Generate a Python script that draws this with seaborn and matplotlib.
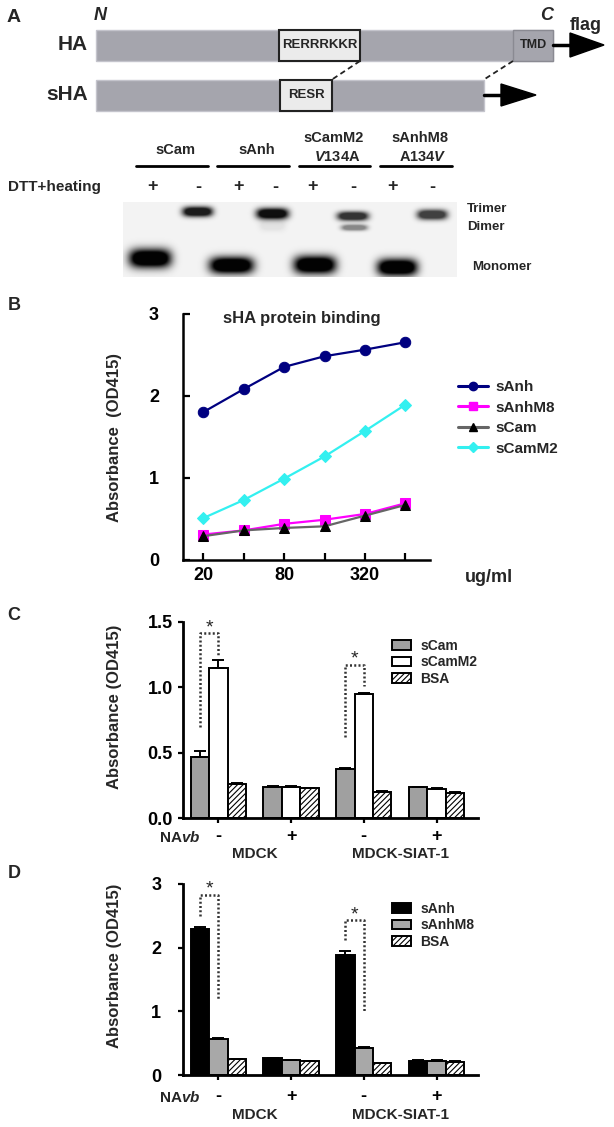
import numpy as np
import pandas as pd
import matplotlib
matplotlib.use("Agg")
import matplotlib.pyplot as plt
import matplotlib.transforms as mtransforms
from matplotlib.patches import Rectangle, Polygon, Patch
from matplotlib.lines import Line2D
import seaborn as sns

# ---------------- data ----------------
# Panel A gel: bands (x centre, y centre, half width, half height, intensity) in gel units
band_x = [27, 74.5, 108.5, 149.5, 149.5, 192, 230, 231.5, 274.5, 309.5]
band_y = [56.5, 9.5, 63.5, 11.5, 23, 63, 14, 25.5, 65.5, 12.5]
band_w = [21, 15, 22, 16, 13, 21, 15.5, 13, 20, 15]
band_h = [9.5, 5, 8.5, 5.5, 6, 9, 4.5, 3, 8.5, 5]
band_i = [1.0, 0.9, 1.0, 0.95, 0.07, 1.0, 0.8, 0.45, 1.0, 0.75]
lane_signs = ["+", "-", "+", "-", "+", "-", "+", "-"]
lane_x = [153, 198, 238, 275, 313, 353, 392, 432]

# Panel B
conc = ["20", "40", "80", "160", "320", "640"]
conc_shown = ["20", "", "80", "", "320", ""]
b_names = ["sAnh", "sAnhM8", "sCam", "sCamM2"]
b_sAnh = [1.80, 2.08, 2.35, 2.48, 2.56, 2.65]
b_sAnhM8 = [0.31, 0.36, 0.44, 0.49, 0.56, 0.69]
b_sCam = [0.29, 0.36, 0.39, 0.41, 0.54, 0.67]
b_sCamM2 = [0.51, 0.73, 0.99, 1.26, 1.57, 1.89]

# Panels C / D
groups = ["MDCK-", "MDCK+", "SIAT-", "SIAT+"]
navb = ["-", "+", "-", "+"]
cells = ["MDCK", "MDCK-SIAT-1"]

c_names = ["sCam", "sCamM2", "BSA"]
c_sCam = [0.47, 0.24, 0.375, 0.235]
c_sCam_err = [0.04, 0.004, 0.012, 0.004]
c_sCamM2 = [1.145, 0.24, 0.945, 0.225]
c_sCamM2_err = [0.065, 0.004, 0.012, 0.008]
c_BSA = [0.265, 0.228, 0.20, 0.195]
c_BSA_err = [0.006, 0.004, 0.005, 0.005]
c_sig_low_left = [0.70, 0.62]
c_sig_top = [1.41, 1.17]
c_sig_low_right = [1.24, 1.01]
c_sig_groups = [0, 2]

d_names = ["sAnh", "sAnhM8", "BSA"]
d_sAnh = [2.29, 0.26, 1.89, 0.22]
d_sAnh_err = [0.03, 0.01, 0.05, 0.01]
d_sAnhM8 = [0.56, 0.235, 0.42, 0.225]
d_sAnhM8_err = [0.015, 0.005, 0.012, 0.006]
d_BSA = [0.245, 0.22, 0.185, 0.21]
d_BSA_err = [0.008, 0.005, 0.006, 0.005]
d_sig_low_left = [2.50, 2.12]
d_sig_top = [2.83, 2.43]
d_sig_low_right = [1.20, 1.00]
d_sig_groups = [0, 2]

# ---------------- style ----------------
sns.set_style("ticks")
plt.rcParams["font.family"] = ["Liberation Sans", "DejaVu Sans"]
plt.rcParams["font.weight"] = "bold"
plt.rcParams["axes.labelweight"] = "bold"
plt.rcParams["mathtext.fontset"] = "custom"
plt.rcParams["mathtext.it"] = "Liberation Sans:italic:bold"
plt.rcParams["mathtext.rm"] = "Liberation Sans:bold"
plt.rcParams["mathtext.bf"] = "Liberation Sans:bold"
plt.rcParams["hatch.linewidth"] = 0.8
plt.rcParams["hatch.color"] = "black"
plt.rcParams["axes.edgecolor"] = "black"
plt.rcParams["xtick.color"] = "black"
plt.rcParams["ytick.color"] = "black"

W, H = 614, 1127
fig = plt.figure(figsize=(W / 100, H / 100), dpi=100)
ov = fig.add_axes([0, 0, 1, 1])
ov.set_xlim(0, W)
ov.set_ylim(H, 0)
ov.axis("off")


def fax(x0, y0, x1, y1):
    a = fig.add_axes([x0 / W, 1 - y1 / H, (x1 - x0) / W, (y1 - y0) / H])
    a.patch.set_alpha(0)
    return a


# ---------------- Panel A ----------------
bar_c = "#a5a5ad"
box_c = "#ebebeb"
ov.text(14, 18, "A", fontsize=14, ha="center", va="center")
ov.text(100, 15, "N", fontsize=13, style="italic", ha="center", va="center")
ov.text(547, 15, "C", fontsize=13, style="italic", ha="center", va="center")
ov.text(586, 25, "flag", fontsize=13, ha="center", va="center")
ov.text(88, 45, "HA", fontsize=15, ha="right", va="center")
ov.text(88, 95, "sHA", fontsize=15, ha="right", va="center")

ov.add_patch(Rectangle((96, 29.5), 457, 31.5, fc=bar_c, ec="#c4c4cc", lw=1))
ov.add_patch(Rectangle((513, 29.5), 40, 31.5, fc=bar_c, ec="#8a8a92", lw=1))
ov.add_patch(Rectangle((279, 29.5), 81, 31.5, fc=box_c, ec="#222222", lw=1.5))
ov.text(319.5, 45.5, "RERRRKKR", fontsize=9.5, ha="center", va="center")
ov.text(533, 45.5, "TMD", fontsize=9, ha="center", va="center", color="#222222")
ov.plot([553, 572], [45, 45], color="black", lw=2.5)
ov.add_patch(Polygon([(570, 33), (604, 45), (570, 57)], closed=True, fc="black", ec="black"))

ov.add_patch(Rectangle((96, 79.5), 388, 31, fc=bar_c, ec="#c4c4cc", lw=1))
ov.add_patch(Rectangle((280, 79.5), 52, 31, fc=box_c, ec="#222222", lw=1.5))
ov.text(306, 95.5, "RESR", fontsize=9.5, ha="center", va="center")
ov.plot([484, 503], [95, 95], color="black", lw=2.5)
ov.add_patch(Polygon([(501, 84), (536, 95), (501, 106)], closed=True, fc="black", ec="black"))
ov.plot([360, 332], [61, 79.5], color="#222222", lw=1.3, ls=(0, (3, 2)))
ov.plot([513, 484], [61, 79.5], color="#222222", lw=1.3, ls=(0, (3, 2)))

# gel headers
hdr = [("sCam", None, 175, 136, 208), ("sAnh", None, 257, 217, 289),
       ("sCamM2", r"$V$134A", 334, 299, 370), ("sAnhM8", r"A134$V$", 420, 380, 452)]
for top, bot, cx, l0, l1 in hdr:
    if bot is None:
        ov.text(cx, 150, top, fontsize=10.5, ha="center", va="center")
    else:
        ov.text(cx, 138, top, fontsize=10.5, ha="center", va="center")
        ov.text(cx + 3, 157, bot, fontsize=10.5, ha="center", va="center")
    ov.plot([l0, l1], [166, 166], color="black", lw=2)
ov.text(8, 186.5, "DTT+heating", fontsize=11, ha="left", va="center")
for s, x in zip(lane_signs, lane_x):
    ov.text(x, 187, s, fontsize=13, ha="center", va="center")
ov.text(467, 209, "Trimer", fontsize=9.5, ha="left", va="center")
ov.text(467, 227, "Dimer", fontsize=9.5, ha="left", va="center")
ov.text(472, 267, "Monomer", fontsize=9.5, ha="left", va="center")

# gel image
gax = fax(123, 202, 457, 277)
gxs = np.linspace(0, 334, 668)
gys = np.linspace(0, 75, 150)
GX, GY = np.meshgrid(gxs, gys)
dens = np.zeros_like(GX)
for cx, cy, hw, hh, it in zip(band_x, band_y, band_w, band_h, band_i):
    r = np.abs((GX - cx) / hw) ** 4 + np.abs((GY - cy) / hh) ** 2.2
    dens += it * np.minimum(1.0, 1.5 * np.exp(-r * 1.0))
img = 0.955 - 0.94 * np.clip(dens, 0, 1)
gax.imshow(img, cmap="gray", vmin=0, vmax=1, extent=(0, 334, 75, 0),
           aspect="auto", interpolation="bilinear")
gax.axis("off")

# ---------------- Panel B ----------------
ov.text(14, 306, "B", fontsize=13, ha="center", va="center")
axB = fax(182.7, 313.5, 430, 560)
xb = np.arange(len(conc))
b_vals = [b_sAnh, b_sAnhM8, b_sCam, b_sCamM2]
b_line_c = ["#000080", "#ff00ff", "#666666", "#33f0f0"]
b_mark_c = ["#000080", "#ff00ff", "#000000", "#33f0f0"]
b_mark = ["o", "s", "^", "D"]
b_ms = [7.5, 6.5, 6.5, 6.5]
handles = []
for name, vals, lc, mc, mk, ms in zip(b_names, b_vals, b_line_c, b_mark_c, b_mark, b_ms):
    sns.lineplot(x=xb, y=vals, ax=axB, color=lc, marker=mk, markersize=ms,
                 markerfacecolor=mc, markeredgecolor=mc, linewidth=1.6)
    handles.append(Line2D([], [], color=lc, marker=mk, markersize=ms * 0.8,
                          markerfacecolor=mc, markeredgecolor=mc, lw=2.2))
axB.set_xlim(-0.51, 5.61)
axB.set_ylim(0, 3)
axB.set_xticks(xb)
axB.set_xticklabels(conc_shown)
axB.set_yticks([0, 1, 2, 3])
axB.set_yticklabels(["0", "1", "2", "3"])
for sp in ["top", "right"]:
    axB.spines[sp].set_visible(False)
for sp in ["left", "bottom"]:
    axB.spines[sp].set_linewidth(1.8)
axB.tick_params(axis="both", direction="in", length=5, width=1.6, labelsize=13)
axB.tick_params(axis="y", pad=17)
axB.tick_params(axis="x", pad=5)
for t in axB.get_xticklabels() + axB.get_yticklabels():
    t.set_fontweight("bold")
axB.set_xlabel("")
axB.set_ylabel("")
ov.text(114, 438, "Absorbance  (OD415)", fontsize=12, rotation=90, ha="center", va="center")
ov.text(302, 318, "sHA protein binding", fontsize=12, ha="center", va="center")
ov.text(489, 577, "ug/ml", fontsize=13, ha="center", va="center")
axB.legend(handles, b_names, loc="upper left", bbox_to_anchor=(458 / W, 1 - 380 / H),
           bbox_transform=fig.transFigure, frameon=False, prop={"weight": "bold", "size": 11},
           handlelength=1.95, handletextpad=0.5, labelspacing=0.43, borderpad=0, borderaxespad=0)


# ---------------- Panels C, D ----------------
def bar_panel(ax, names, series, errs, colors, hatches, ylim, yticks, yticklabels,
              sig_groups, sig_ll, sig_top, sig_lr, star_dy, ypad, xpad):
    rows = []
    for n, vals in zip(names, series):
        for g, v in zip(groups, vals):
            rows.append({"group": g, "series": n, "value": v})
    df = pd.DataFrame(rows)
    sns.barplot(data=df, x="group", y="value", hue="series", order=groups, hue_order=names,
                palette=dict(zip(names, colors)), width=0.76, edgecolor="black",
                linewidth=1.4, errorbar=None, legend=False, ax=ax, saturation=1)
    centers = []
    for cont, hatch, e in zip(ax.containers, hatches, errs):
        xs, tops = [], []
        for bar in cont:
            if hatch:
                bar.set_hatch(hatch)
            xs.append(bar.get_x() + bar.get_width() / 2)
            tops.append(bar.get_height())
        centers.append(xs)
        ax.errorbar(xs, tops, yerr=[np.zeros(len(e)), e], fmt="none", ecolor="black",
                    elinewidth=1.4, capsize=4, capthick=1.4, zorder=5)
    for g, ll, tp, lr in zip(sig_groups, sig_ll, sig_top, sig_lr):
        xl, xr = centers[0][g], centers[1][g]
        ax.plot([xl, xl, xr, xr], [ll, tp, tp, lr], color="#333333", lw=1.8,
                ls=(0, (0.8, 0.9)), zorder=6, clip_on=False)
        ax.text((xl + xr) / 2, tp + star_dy, "*", fontsize=14, fontweight="normal",
                ha="center", va="center", zorder=6)
    ax.set_xlim(-0.49, 3.57)
    ax.set_ylim(*ylim)
    ax.set_yticks(yticks)
    ax.set_yticklabels(yticklabels)
    ax.set_xticks(range(len(groups)))
    ax.set_xticklabels(navb)
    for sp in ["top", "right"]:
        ax.spines[sp].set_visible(False)
    for sp in ["left", "bottom"]:
        ax.spines[sp].set_linewidth(2)
    ax.tick_params(axis="both", direction="out", length=3.5, width=1.6, labelsize=13)
    ax.tick_params(axis="y", pad=ypad)
    ax.tick_params(axis="x", pad=xpad)
    for t in ax.get_xticklabels() + ax.get_yticklabels():
        t.set_fontweight("bold")
    ax.set_xlabel("")
    ax.set_ylabel("")


ov.text(14, 615, "C", fontsize=13, ha="center", va="center")
axC = fax(182.7, 621.7, 478, 818.3)
bar_panel(axC, c_names, [c_sCam, c_sCamM2, c_BSA], [c_sCam_err, c_sCamM2_err, c_BSA_err],
          ["#a0a0a0", "#ffffff", "#ffffff"], [None, None, "//////"], (0, 1.5),
          [0, 0.5, 1.0, 1.5], ["0.0", "0.5", "1.0", "1.5"],
          c_sig_groups, c_sig_low_left, c_sig_top, c_sig_low_right, 0.045, 3.5, 3.5)
ov.text(114, 707, "Absorbance (OD415)", fontsize=12, rotation=90, ha="center", va="center")
ov.text(200, 837, r"NA$vb$", fontsize=11, ha="right", va="center")
trC = mtransforms.blended_transform_factory(axC.transData, ov.transData)
ov.text(0.5, 854, cells[0], fontsize=11, ha="center", va="center", transform=trC)
ov.text(2.5, 854, cells[1], fontsize=11, ha="center", va="center", transform=trC)
hC = [Patch(fc="#a0a0a0", ec="black", lw=1.4), Patch(fc="white", ec="black", lw=1.4),
      Patch(fc="white", ec="black", lw=1.4, hatch="//////")]
axC.legend(hC, c_names, loc="upper left", bbox_to_anchor=(392 / W, 1 - 639 / H),
           bbox_transform=fig.transFigure, frameon=False, prop={"weight": "bold", "size": 10},
           handlelength=1.35, handleheight=0.7, handletextpad=0.7, labelspacing=0.17,
           borderpad=0, borderaxespad=0)

ov.text(14, 874, "D", fontsize=13, ha="center", va="center")
axD = fax(182.7, 884, 478, 1075)
bar_panel(axD, d_names, [d_sAnh, d_sAnhM8, d_BSA], [d_sAnh_err, d_sAnhM8_err, d_BSA_err],
          ["#000000", "#a8a8a8", "#ffffff"], [None, None, "//////"], (0, 3),
          [0, 1, 2, 3], ["0", "1", "2", "3"],
          d_sig_groups, d_sig_low_left, d_sig_top, d_sig_low_right, 0.09, 12, 6)
ov.text(114, 966, "Absorbance (OD415)", fontsize=12, rotation=90, ha="center", va="center")
ov.text(200, 1097, r"NA$vb$", fontsize=11, ha="right", va="center")
trD = mtransforms.blended_transform_factory(axD.transData, ov.transData)
ov.text(0.5, 1115, cells[0], fontsize=11, ha="center", va="center", transform=trD)
ov.text(2.5, 1115, cells[1], fontsize=11, ha="center", va="center", transform=trD)
hD = [Patch(fc="#000000", ec="black", lw=1.4), Patch(fc="#a8a8a8", ec="black", lw=1.4),
      Patch(fc="white", ec="black", lw=1.4, hatch="//////")]
axD.legend(hD, d_names, loc="upper left", bbox_to_anchor=(392 / W, 1 - 902 / H),
           bbox_transform=fig.transFigure, frameon=False, prop={"weight": "bold", "size": 10},
           handlelength=1.35, handleheight=0.7, handletextpad=0.7, labelspacing=0.17,
           borderpad=0, borderaxespad=0)

fig.savefig("out.png", dpi=100)
